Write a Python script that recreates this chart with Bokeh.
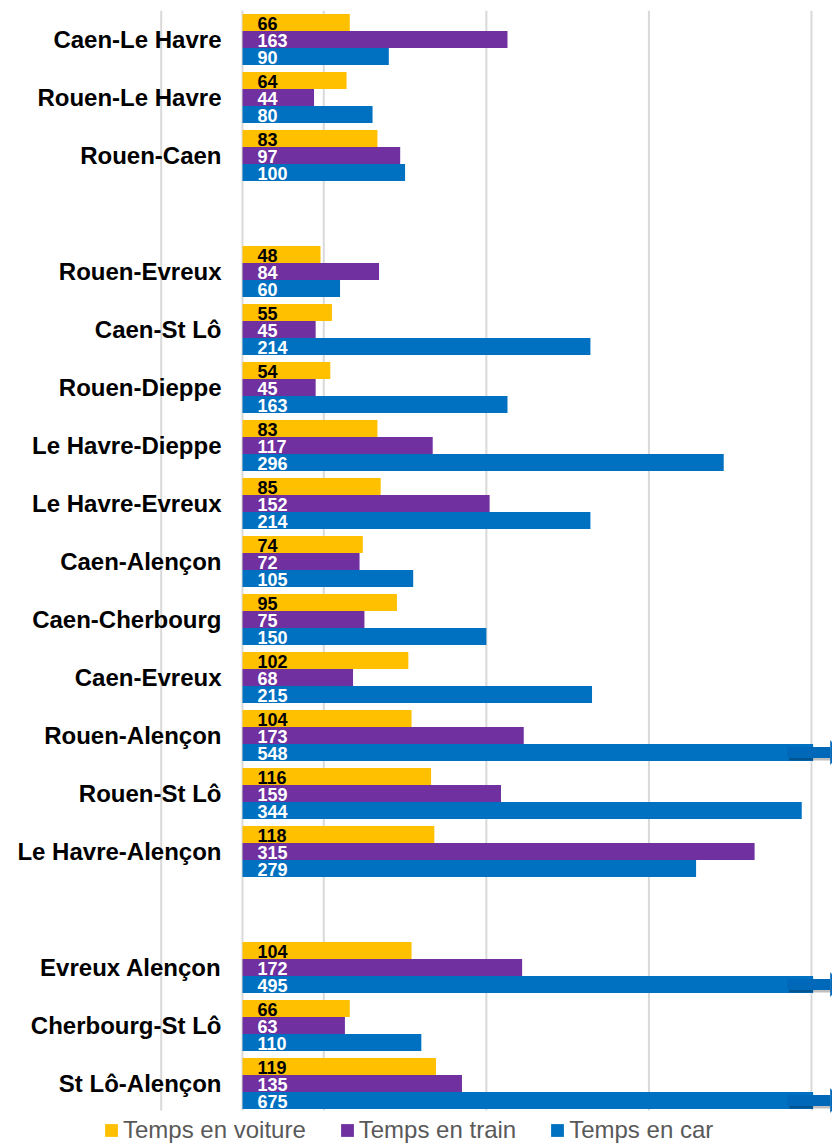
from bokeh.plotting import figure
from bokeh.models import Range1d, Legend, LegendItem, ColumnDataSource
from bokeh.core.properties import value
from bokeh.embed import file_html
from bokeh.resources import INLINE

# ---------------- data ----------------
group1 = ["Caen-Le Havre", "Rouen-Le Havre", "Rouen-Caen"]
group2 = ["Rouen-Evreux", "Caen-St Lô", "Rouen-Dieppe", "Le Havre-Dieppe",
          "Le Havre-Evreux", "Caen-Alençon", "Caen-Cherbourg", "Caen-Evreux",
          "Rouen-Alençon", "Rouen-St Lô", "Le Havre-Alençon"]
group3 = ["Evreux Alençon", "Cherbourg-St Lô", "St Lô-Alençon"]
groups = [group1, group2, group3]

temps_voiture = [66, 64, 83,
                 48, 55, 54, 83, 85, 74, 95, 102, 104, 116, 118,
                 104, 66, 119]
temps_train = [163, 44, 97,
               84, 45, 45, 117, 152, 72, 75, 68, 173, 159, 315,
               172, 63, 135]
temps_car = [90, 80, 100,
             60, 214, 163, 296, 214, 105, 150, 215, 548, 344, 279,
             495, 110, 675]

series_names = ["Temps en voiture", "Temps en train", "Temps en car"]
series_values = [temps_voiture, temps_train, temps_car]
grid_ticks = [-50, 0, 50, 150, 250, 350]

# ---------------- styling / layout ----------------
colors = ["#FFC000", "#7030A0", "#0070C0"]
label_colors = ["#000000", "#FFFFFF", "#FFFFFF"]
FONT_NAME = "Liberation Sans"
FONT = value(FONT_NAME)

W, H = 832, 1145
TOP = 10
PXX = (811 - 242) / 350.0    # px per value unit
X0 = -242 / PXX
X1 = (W - 242) / PXX
PXY = 58.0                   # px per category slot
LEGEND_PX = 33               # room for the legend under the bars
CAP = 351                    # display limit of the axis

# slot positions (one empty slot between groups)
routes, ys = [], []
k = 0
for gi, g in enumerate(groups):
    if gi > 0:
        k += 1
    for r in g:
        routes.append(r)
        ys.append(-k)
        k += 1
n_slots = k
y_top, y_bot = 0.5, -n_slots + 0.5

p = figure(width=W, height=H, x_range=Range1d(X0, X1),
           y_range=Range1d(y_bot - LEGEND_PX / PXY, y_top),
           output_backend="svg", toolbar_location=None,
           x_axis_location=None, y_axis_location=None,
           min_border_left=0, min_border_right=0,
           min_border_top=TOP, min_border_bottom=0)
p.outline_line_color = None
p.xgrid.visible = False
p.ygrid.visible = False

# vertical gridlines over the bar area only
p.segment(x0=grid_ticks, x1=grid_ticks, y0=[y_top] * len(grid_ticks),
          y1=[y_bot + 2 / PXY] * len(grid_ticks),
          line_color="#D9D9D9", line_width=2)

BAR_H = 17 / PXY
offsets = [BAR_H, 0.0, -BAR_H]

renderers = []
sources = []
for vals, off, col in zip(series_values, offsets, colors):
    yy = [y + off for y in ys]
    right = [min(v, CAP) for v in vals]
    src = ColumnDataSource(dict(y=yy, right=right, v=vals,
                                ty=[y - 1.0 / PXY for y in yy],
                                t=[str(v) for v in vals]))
    r = p.hbar(y="y", left=0, right="right", height=BAR_H, fill_color=col,
               line_color=None, source=src)
    renderers.append(r)
    sources.append(src)

# break arrows for values beyond the axis
over = [(y + offsets[2]) for y, v in zip(ys, temps_car) if v > CAP]
if over:
    sx0, sx1 = CAP - 16, CAP + 10.5
    sh = 11 / PXY
    dx, dy = 2 / PXX, 2.5 / PXY
    p.hbar(y=[y - dy for y in over], left=sx0 + dx, right=sx1 + dx, height=sh,
           fill_color="#000000", fill_alpha=0.25, line_color=None)
    p.hbar(y=over, left=sx0, right=sx1, height=sh,
           fill_color="#0068B8", line_color=None)
    hh = 12.5 / PXY
    tip = 10 / PXX
    xs_h = [[sx1 + dx, sx1 + dx, sx1 + dx + tip] for _ in over]
    ys_h = [[y - dy - hh, y - dy + hh, y - dy] for y in over]
    p.patches(xs_h, ys_h, fill_color="#000000", fill_alpha=0.25, line_color=None)
    xs_h = [[sx1, sx1, sx1 + tip] for _ in over]
    ys_h = [[y - hh, y + hh, y] for y in over]
    p.patches(xs_h, ys_h, fill_color="#0068B8", line_color=None)

# value labels (after all bars so none is covered)
for src, lcol in zip(sources, label_colors):
    p.text(x=15 / PXX, y="ty", text="t", source=src, text_font=FONT,
           text_font_style="bold", text_font_size="18px", text_color=lcol,
           text_align="left", text_baseline="middle")

# category labels
cat_src = ColumnDataSource(dict(y=ys, t=routes))
p.text(x=-21 / PXX, y="y", text="t", source=cat_src, text_font=FONT,
       text_font_style="bold", text_font_size="24px", text_color="#000000",
       text_align="right", text_baseline="middle")

legend = Legend(items=[LegendItem(label=n, renderers=[r])
                       for n, r in zip(series_names, renderers)],
                orientation="horizontal", location=(103, 1),
                glyph_width=16, glyph_height=16, label_standoff=4,
                spacing=33, padding=0, margin=0,
                label_text_font=FONT_NAME, label_text_font_size="24px",
                label_text_color="#595959",
                border_line_color=None, background_fill_alpha=0)
p.add_layout(legend)

open("out.html", "w").write(file_html(p, INLINE))
